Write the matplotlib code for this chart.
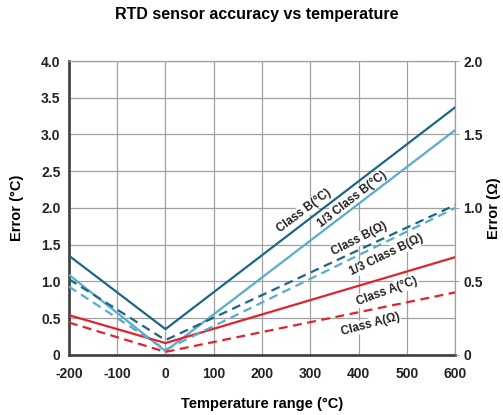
import numpy as np
import matplotlib
matplotlib.use("Agg")
import matplotlib.pyplot as plt

plt.rcParams['axes.unicode_minus'] = False

# temperatures where the V-shaped tolerance curves bend
temp = [-200, 0, 600]

# values (deg C); dashed ones are read on the right (ohm) axis = left/2
class_b_c = [1.35, 0.35, 3.37]
third_b_c = [1.09, 0.05, 3.06]
class_b_ohm = [0.515, 0.10, 1.02]
third_b_ohm = [0.465, 0.035, 1.00]
class_a_c = [0.54, 0.16, 1.33]
class_a_ohm = [0.22, 0.02, 0.425]

xticks = [-200, -100, 0, 100, 200, 300, 400, 500, 600]
yticks_l = [0, 0.5, 1.0, 1.5, 2.0, 2.5, 3.0, 3.5, 4.0]
yticks_r = [0, 0.5, 1.0, 1.5, 2.0]

dark = '#1d6684'
light = '#5aaccc'
red = '#e3232b'
fam = ['Liberation Sans', 'DejaVu Sans']

fig = plt.figure(figsize=(5.03, 4.15), dpi=100)
ax = fig.add_axes([0.137, 0.145, 0.768, 0.708])
ax2 = ax.twinx()

ax.set_xlim(-200, 600)
ax.set_ylim(0, 4)
ax2.set_ylim(0, 2)

ax.plot(temp, class_b_c, color=dark, lw=1.6, zorder=4)
ax.plot(temp, third_b_c, color=light, lw=1.6, zorder=4)
ax.plot(temp, class_a_c, color=red, lw=1.6, zorder=4)
ax2.plot(temp, class_b_ohm, color=dark, lw=1.6, ls=(0, (4, 2.5)), zorder=4)
ax2.plot(temp, third_b_ohm, color=light, lw=1.6, ls=(0, (4, 2.5)), zorder=4)
ax2.plot(temp, class_a_ohm, color=red, lw=1.6, ls=(0, (4, 2.5)), zorder=4)

ax.set_xticks(xticks)
ax.set_yticks(yticks_l)
ax.set_yticklabels(['0' if v == 0 else '%.1f' % v for v in yticks_l])
ax2.set_yticks(yticks_r)
ax2.set_yticklabels(['0' if v == 0 else '%.1f' % v for v in yticks_r])
ax.grid(True, color='#a0a0a0', lw=0.9)
ax.set_axisbelow(True)

for lab in ax.get_xticklabels() + ax.get_yticklabels() + ax2.get_yticklabels():
    lab.set_family(fam)
    lab.set_fontweight('bold')
    lab.set_fontsize(10)
    lab.set_color('#222222')

ax.tick_params(axis='y', length=0, pad=6)
ax.tick_params(axis='x', length=0, pad=9)
ax2.tick_params(length=3, color='#a0a0a0', pad=3)
for s in ['left', 'bottom']:
    ax.spines[s].set_color('#444444')
    ax.spines[s].set_linewidth(2)
for s in ['top', 'right']:
    ax.spines[s].set_color('#a0a0a0')
    ax.spines[s].set_linewidth(0.9)
for s in ax2.spines.values():
    s.set_visible(False)

ax.set_xlabel('Temperature range (°C)', family=fam, fontweight='bold', fontsize=10.5, labelpad=11)
ax.set_ylabel('Error (°C)', family=fam, fontweight='bold', fontsize=10.5)
ax2.set_ylabel('Error (Ω)', family=fam, fontweight='bold', fontsize=10.5)
ax.yaxis.set_label_coords(-0.115, 0.5)
ax2.yaxis.label.set_verticalalignment('center')
ax2.yaxis.set_label_coords(1.1, 0.5)
fig.suptitle('RTD sensor accuracy vs temperature', x=0.51, y=0.982,
             family=fam, fontweight='bold', fontsize=11.5)

box = dict(facecolor='white', edgecolor='none', pad=0.5)
labels = [
    ('Class B(°C)', 287, 1.96, 37),
    ('1/3 Class B(°C)', 387, 2.12, 38),
    ('Class B(Ω)', 401, 1.58, 27),
    ('1/3 Class B(Ω)', 457, 1.36, 26),
    ('Class A(°C)', 459, 0.87, 20),
    ('Class A(Ω)', 424, 0.41, 15),
]
for txt, x, y, rot in labels:
    ax.text(x, y, txt, rotation=rot, ha='center', va='center', family=fam,
            fontweight='bold', fontsize=8.5, color='#222222', bbox=box, zorder=3,
            rotation_mode='anchor')

fig.savefig('out.png', dpi=100)
